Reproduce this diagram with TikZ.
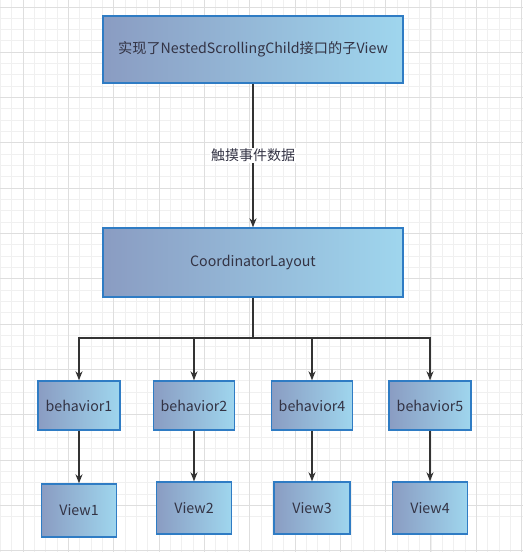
\documentclass[tikz,border=0pt]{standalone}
\usepackage{fontspec}
\setmainfont{Noto Sans CJK SC}
\usetikzlibrary{arrows.meta}
\definecolor{gl}{HTML}{8A9CC2}
\definecolor{gr}{HTML}{9FD6EE}
\definecolor{bd}{HTML}{2F7CC4}
\definecolor{tx}{HTML}{333344}
\definecolor{ln}{HTML}{333333}
\begin{document}
\begin{tikzpicture}[x=1pt,y=-1pt,
  box/.style={draw=bd,line width=1.4pt,left color=gl,right color=gr,text=tx,font=\fontsize{14.2}{17}\selectfont,inner sep=0pt},
  conn/.style={draw=ln,line width=1.3pt,-{Stealth[length=9pt,width=7pt]}},
  plain/.style={draw=ln,line width=1.3pt}]
\fill[white] (0,0) rectangle (523,552);
\useasboundingbox (0,0) rectangle (523,552);
\begin{scope}
\clip (0,0) rectangle (523,552);
\foreach \i in {0,...,46} {
  \draw[color=black!6,line width=0.6pt] ({0.35+11.33*\i},0) -- ({0.35+11.33*\i},552);
  \draw[color=black!6,line width=0.6pt] (0,{6.8+11.33*\i-11.33}) -- (523,{6.8+11.33*\i-11.33});
}
\foreach \i in {0,...,12} {
  \draw[color=black!13,line width=0.6pt] ({23+45.3*\i},0) -- ({23+45.3*\i},552);
  \draw[color=black!13,line width=0.6pt] (0,{6.8+45.3*\i}) -- (523,{6.8+45.3*\i});
}
\end{scope}
\node[box,minimum width=300pt,minimum height=67pt] (top) at (253,49.5) {实现了NestedScrollingChild接口的子View};
\node[box,minimum width=300pt,minimum height=69pt] (coord) at (253,262.5) {CoordinatorLayout};
\node[box,minimum width=82pt,minimum height=49pt] (b1) at (79,405.5) {behavior1};
\node[box,minimum width=81pt,minimum height=49pt] (b2) at (194,405.5) {behavior2};
\node[box,minimum width=81pt,minimum height=49pt] (b4) at (312,405.5) {behavior4};
\node[box,minimum width=82pt,minimum height=49pt] (b5) at (430,405.5) {behavior5};
\node[box,minimum width=75pt,minimum height=53pt] (v1) at (79,510.5) {View1};
\node[box,minimum width=75pt,minimum height=52pt] (v2) at (194,508) {View2};
\node[box,minimum width=76pt,minimum height=52pt] (v3) at (312,508) {View3};
\node[box,minimum width=75pt,minimum height=52pt] (v4) at (430,508) {View4};
\coordinate (j) at (253,338);
\draw[conn] (top) -- node[fill=white,inner sep=1pt,text=tx,font=\fontsize{14}{16}\selectfont] {触摸事件数据} (coord);
\draw[plain] (coord) -- (j);
\draw[conn] (j) -| (b1);
\draw[conn] (j) -| (b2);
\draw[conn] (j) -| (b4);
\draw[conn] (j) -| (b5);
\draw[conn] (b1) -- (v1);
\draw[conn] (b2) -- (v2);
\draw[conn] (b4) -- (v3);
\draw[conn] (b5) -- (v4);
\end{tikzpicture}
\end{document}
